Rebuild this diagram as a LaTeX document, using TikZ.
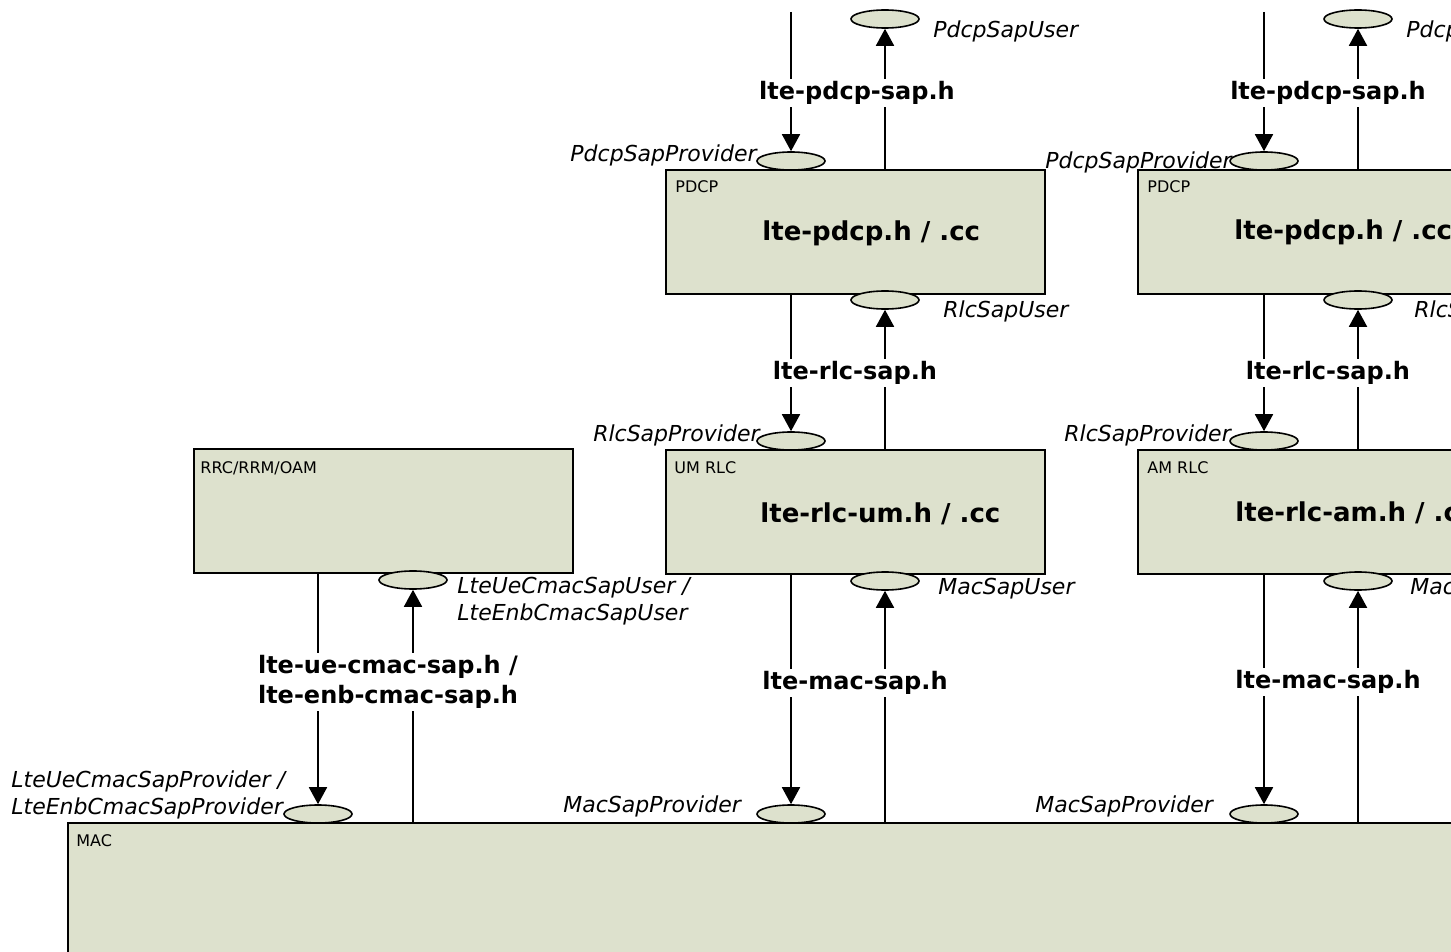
\documentclass[tikz,border=0pt]{standalone}
\usepackage{fontspec}
\setmainfont{DejaVu Sans}
\usepackage{tikz}
\usetikzlibrary{arrows.meta,shapes.geometric}
\definecolor{blockfill}{HTML}{DDE1CD}

\begin{document}
\begin{tikzpicture}[
  x=0.5pt, y=-0.5pt,
  block/.style={draw, fill=blockfill, line width=1pt, anchor=north west, inner sep=0,
                minimum width=189.5pt, minimum height=62pt},
  blocktag/.style={anchor=base west, inner sep=0, font=\fontsize{8pt}{10pt}\selectfont},
  modname/.style={anchor=base west, inner sep=0, font=\fontsize{13pt}{16pt}\selectfont\bfseries},
  sap/.style={ellipse, draw, fill=blockfill, line width=0.8pt, inner sep=0,
              minimum width=34pt, minimum height=9pt},
  sapname/.style={inner sep=0, align=left, font=\fontsize{11pt}{13.5pt}\selectfont\itshape},
  hdr/.style={fill=white, inner sep=1pt, align=left, font=\fontsize{12pt}{15pt}\selectfont\bfseries},
  arr/.style={-{Triangle[length=8.5pt,width=9pt]}, line width=0.9pt}
]
\useasboundingbox (0,0) rectangle (1451,952);
\clip (0,0) rectangle (1451,952);

% blocks
\node[block] (pdcp1) at (665,169) {};
\node[block] (pdcp2) at (1137,169) {};
\node[block] (um) at (665,449) {};
\node[block] (am) at (1137,449) {};
\node[block] (rrc) at (193,448) {};
\node[block, minimum width=760pt, minimum height=120pt] (mac) at (67,822) {};

\node[blocktag] (pdcp1tag) at ([shift={(10,24)}]pdcp1.north west) {PDCP};
\node[blocktag] (pdcp2tag) at ([shift={(10,24)}]pdcp2.north west) {PDCP};
\node[blocktag] (umtag) at ([shift={(9,24)}]um.north west) {UM RLC};
\node[blocktag] (amtag) at ([shift={(10,24)}]am.north west) {AM RLC};
\node[blocktag] (rrctag) at ([shift={(7,25)}]rrc.north west) {RRC/RRM/OAM};
\node[blocktag] (mactag) at ([shift={(9,24)}]mac.north west) {MAC};

\node[modname] (pdcp1name) at ([shift={(97,72)}]pdcp1.north west) {lte-pdcp.h / .cc};
\node[modname] (pdcp2name) at ([shift={(97,71)}]pdcp2.north west) {lte-pdcp.h / .cc};
\node[modname] (umname) at ([shift={(95,73)}]um.north west) {lte-rlc-um.h / .cc};
\node[modname] (amname) at ([shift={(98,72)}]am.north west) {lte-rlc-am.h / .cc};

% service access points
\node[sap] (pdcpuser1) at (885,19) {};
\node[sap] (pdcpprov1) at (791,161) {};
\node[sap] (rlcuser1) at (885,300) {};
\node[sap] (rlcprov1) at (791,441) {};
\node[sap] (macuser1) at (885,581) {};
\node[sap] (macprov1) at (791,814) {};
\node[sap] (pdcpuser2) at (1358,19) {};
\node[sap] (pdcpprov2) at (1264,161) {};
\node[sap] (rlcuser2) at (1358,300) {};
\node[sap] (rlcprov2) at (1264,441) {};
\node[sap] (macuser2) at (1358,581) {};
\node[sap] (macprov2) at (1264,814) {};
\node[sap] (cmacuser) at (413,580) {};
\node[sap] (cmacprov) at (318,814) {};

\node[sapname, anchor=base west] (pdcpuser1name) at (933,38) {PdcpSapUser};
\node[sapname, anchor=base east] (pdcpprov1name) at (757,162) {PdcpSapProvider};
\node[sapname, anchor=base west] (rlcuser1name) at (943,318) {RlcSapUser};
\node[sapname, anchor=base east] (rlcprov1name) at (760,441) {RlcSapProvider};
\node[sapname, anchor=base west] (macuser1name) at (938,594) {MacSapUser};
\node[sapname, anchor=base west] (macprov1name) at (563,812) {MacSapProvider};
\node[sapname, anchor=base west] (pdcpuser2name) at (1406,38) {PdcpSapUser};
\node[sapname, anchor=base west] (pdcpprov2name) at (1045,169) {PdcpSapProvider};
\node[sapname, anchor=base west] (rlcuser2name) at (1414,318) {RlcSapUser};
\node[sapname, anchor=base west] (rlcprov2name) at (1064,441) {RlcSapProvider};
\node[sapname, anchor=base west] (macuser2name) at (1410,594) {MacSapUser};
\node[sapname, anchor=base west] (macprov2name) at (1035,812) {MacSapProvider};
\node[sapname, anchor=north west] (cmacusername) at (457,577) {LteUeCmacSapUser /\\LteEnbCmacSapUser};
\node[sapname, anchor=north west] (cmacprovname) at (11,770) {LteUeCmacSapProvider /\\LteEnbCmacSapProvider};

% connectors
\coordinate (top1) at (791,12);
\coordinate (top2) at (1264,12);
\draw[arr] (top1) -- (pdcpprov1.north);
\draw[arr] (pdcp1.north -| pdcpuser1.south) -- (pdcpuser1.south);
\draw[arr] (pdcp1.south -| rlcprov1.north) -- (rlcprov1.north);
\draw[arr] (um.north -| rlcuser1.south) -- (rlcuser1.south);
\draw[arr] (um.south -| macprov1.north) -- (macprov1.north);
\draw[arr] (mac.north -| macuser1.south) -- (macuser1.south);
\draw[arr] (top2) -- (pdcpprov2.north);
\draw[arr] (pdcp2.north -| pdcpuser2.south) -- (pdcpuser2.south);
\draw[arr] (pdcp2.south -| rlcprov2.north) -- (rlcprov2.north);
\draw[arr] (am.north -| rlcuser2.south) -- (rlcuser2.south);
\draw[arr] (am.south -| macprov2.north) -- (macprov2.north);
\draw[arr] (mac.north -| macuser2.south) -- (macuser2.south);
\draw[arr] (rrc.south -| cmacprov.north) -- (cmacprov.north);
\draw[arr] (mac.north -| cmacuser.south) -- (cmacuser.south);

\node[hdr] (pdcpsap1) at (857,93) {lte-pdcp-sap.h};
\node[hdr] (rlcsap1) at (855,373) {lte-rlc-sap.h};
\node[hdr] (macsap1) at (855,683) {lte-mac-sap.h};
\node[hdr] (pdcpsap2) at (1328,93) {lte-pdcp-sap.h};
\node[hdr] (rlcsap2) at (1328,373) {lte-rlc-sap.h};
\node[hdr] (macsap2) at (1328,682) {lte-mac-sap.h};
\node[hdr] (cmacsap) at (388,682) {lte-ue-cmac-sap.h /\\lte-enb-cmac-sap.h};
\end{tikzpicture}
\end{document}
